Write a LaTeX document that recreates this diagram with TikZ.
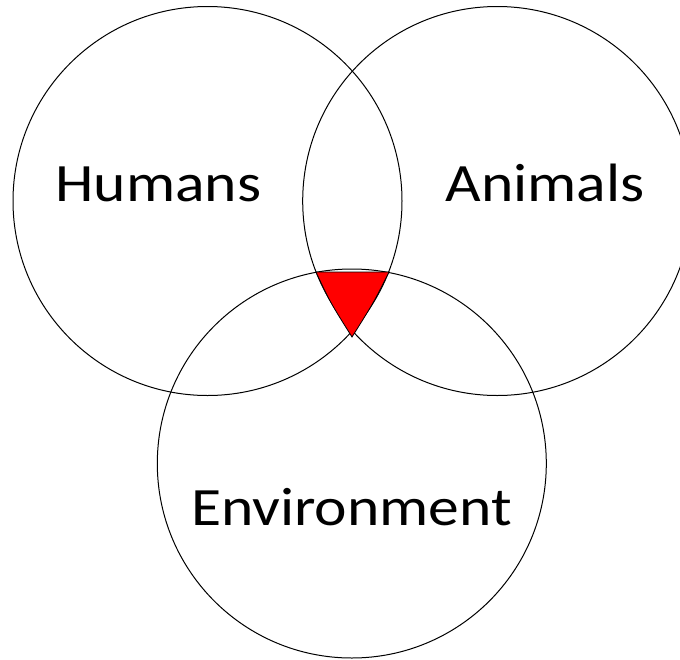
\documentclass[tikz,border=0pt]{standalone}
\usepackage{fontspec}
\newfontfamily\vennfont[FakeStretch=1.14]{Carlito}
\begin{document}
\begin{tikzpicture}[x=1pt, y=-1pt,
    ring/.style={draw=black, line width=1pt},
    lbl/.style={anchor=base, inner sep=0pt, font=\vennfont\fontsize{54}{60}\selectfont}]
    \useasboundingbox (0,0) rectangle (680,659);
    % Centres
    \coordinate (cHum) at (207.5, 201);
    \coordinate (cAni) at (497.2, 201);
    \coordinate (cEnv) at (351.8, 463.5);

    % Cercles
    \draw[ring] (cHum) circle [radius=194.5pt];
    \draw[ring] (cAni) circle [radius=194.5pt];
    \draw[ring] (cEnv) circle [radius=194.5pt];

    % Zone centrale
    \filldraw[fill=red, draw=black, line width=0.8pt] (316,272) -- (389,272)
        .. controls (374,302) .. (352,337)
        .. controls (330,302) .. (316,272) -- cycle;

    % Textes
    \node[lbl] (humans) at (158.5, 201.7) {Humans};
    \node[lbl] (animals) at (545, 201.7) {Animals};
    \node[lbl] (environment) at (351.5, 525) {Environment};
\end{tikzpicture}
\end{document}
